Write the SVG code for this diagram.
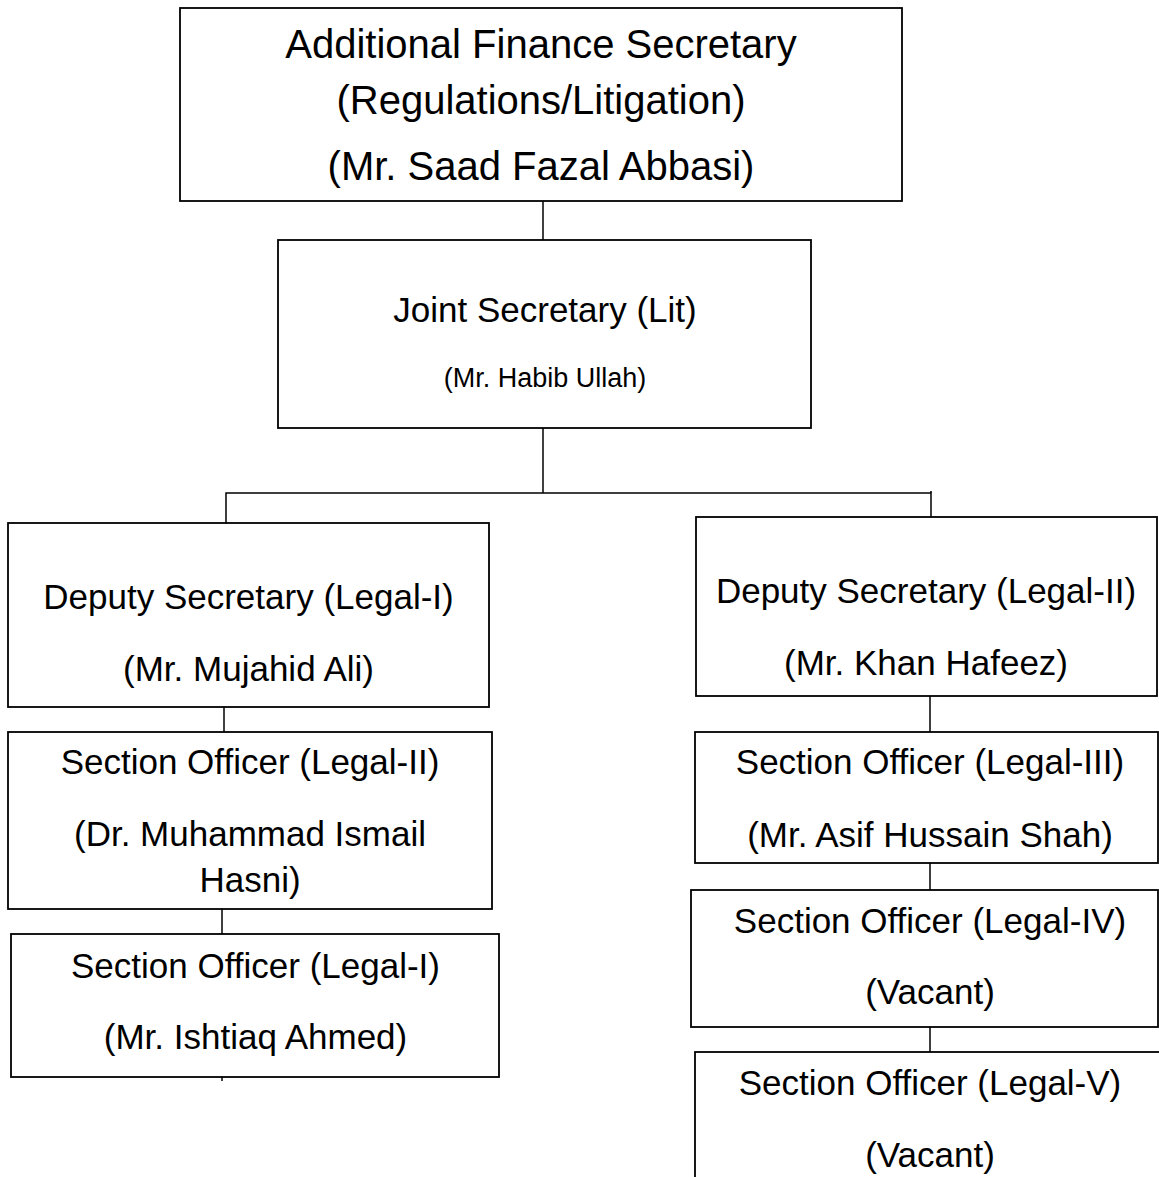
<svg xmlns="http://www.w3.org/2000/svg" width="1159" height="1177" viewBox="0 0 1159 1177">
<style>
.box{fill:#fff;stroke:#000;stroke-width:1.8}
.ln{fill:none;stroke:#000;stroke-width:1.5}
text{font-family:"Liberation Sans",Arial,sans-serif;fill:#000;text-anchor:middle}
.t40{font-size:40px}
.t35{font-size:35px}
.t27{font-size:27px}
</style>
<rect width="1159" height="1177" fill="#fff"/>
<g id="connectors">
<line class="ln" x1="543" y1="201" x2="543" y2="240"/>
<line class="ln" x1="543" y1="428" x2="543" y2="493"/>
<polyline class="ln" points="226,523 226,493 931,493 931,517"/>
<line class="ln" x1="931" y1="491" x2="931" y2="493"/>
<line class="ln" x1="224" y1="707" x2="224" y2="732"/>
<line class="ln" x1="222" y1="909" x2="222" y2="934"/>
<line class="ln" x1="222" y1="1077" x2="222" y2="1081"/>
<line class="ln" x1="930" y1="696" x2="930" y2="732"/>
<line class="ln" x1="930" y1="863" x2="930" y2="890"/>
<line class="ln" x1="930" y1="1027" x2="930" y2="1052"/>
</g>
<g id="n-afs">
<rect class="box" x="180" y="8" width="722" height="193"/>
<text class="t40" x="541" y="58">Additional Finance Secretary</text>
<text class="t40" x="541" y="114">(Regulations/Litigation)</text>
<text class="t40" x="541" y="180">(Mr. Saad Fazal Abbasi)</text>
</g>
<g id="n-js">
<rect class="box" x="278" y="240" width="533" height="188"/>
<text class="t35" x="545" y="322">Joint Secretary (Lit)</text>
<text class="t27" x="545" y="387">(Mr. Habib Ullah)</text>
</g>
<g id="n-ds1">
<rect class="box" x="8" y="523" width="481" height="184"/>
<text class="t35" x="248.5" y="609">Deputy Secretary (Legal-I)</text>
<text class="t35" x="248.5" y="681">(Mr. Mujahid Ali)</text>
</g>
<g id="n-ds2">
<rect class="box" x="696" y="517" width="461" height="179"/>
<text class="t35" x="926" y="603">Deputy Secretary (Legal-II)</text>
<text class="t35" x="926" y="675">(Mr. Khan Hafeez)</text>
</g>
<g id="n-so2">
<rect class="box" x="8" y="732" width="484" height="177"/>
<text class="t35" x="250" y="774">Section Officer (Legal-II)</text>
<text class="t35" x="250" y="846">(Dr. Muhammad Ismail</text>
<text class="t35" x="250" y="892">Hasni)</text>
</g>
<g id="n-so1">
<rect class="box" x="11" y="934" width="488" height="143"/>
<text class="t35" x="255.5" y="978">Section Officer (Legal-I)</text>
<text class="t35" x="255.5" y="1049">(Mr. Ishtiaq Ahmed)</text>
</g>
<g id="n-so3">
<rect class="box" x="695" y="732" width="463" height="131"/>
<text class="t35" x="930" y="774">Section Officer (Legal-III)</text>
<text class="t35" x="930" y="847">(Mr. Asif Hussain Shah)</text>
</g>
<g id="n-so4">
<rect class="box" x="691" y="890" width="467" height="137"/>
<text class="t35" x="930" y="933">Section Officer (Legal-IV)</text>
<text class="t35" x="930" y="1004">(Vacant)</text>
</g>
<g id="n-so5">
<rect class="box" x="695" y="1052" width="480" height="140"/>
<text class="t35" x="930" y="1095">Section Officer (Legal-V)</text>
<text class="t35" x="930" y="1167">(Vacant)</text>
</g>
</svg>
